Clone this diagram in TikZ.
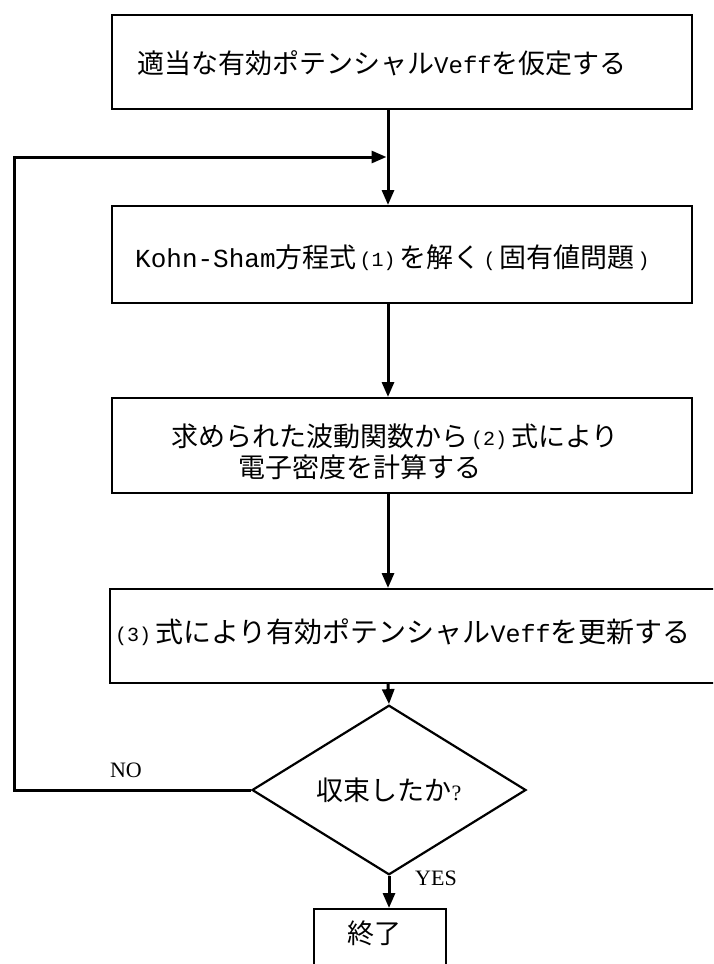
\documentclass[tikz,border=0pt]{standalone}
\usepackage{fontspec}
\setmainfont{Noto Sans CJK JP}
\newfontfamily\monofam{Liberation Mono}
\newfontfamily\seriffam{Liberation Serif}
\usetikzlibrary{arrows.meta,shapes.geometric}
\newcommand{\lmono}[2][24]{{\monofam\fontsize{#1}{#1}\selectfont #2}}
\newcommand{\smallref}[1]{\hspace{3pt}\raisebox{1pt}{\monofam\fontsize{20}{20}\selectfont #1}\hspace{4pt}}
\begin{document}
\begin{tikzpicture}[x=1pt,y=-1pt,
  box/.style={draw,line width=1.8pt,minimum width=580pt,anchor=north west,inner sep=0pt},
  txt/.style={anchor=west,inner sep=0pt,font=\fontsize{27}{32}\selectfont},
  arr/.style={line width=3pt,-{Triangle[length=15pt,width=12pt]}},
  lnk/.style={line width=3pt},
  lab/.style={inner sep=0pt,font=\seriffam\fontsize{22}{26}\selectfont}]
\useasboundingbox (0,0) rectangle (713,964);
\clip (0,0) rectangle (713,964);
\fill[white] (0,0) rectangle (713,964);
% boxes
\node[box,minimum height=94pt] (b1) at (111,14) {};
\node[box,minimum height=97pt] (b2) at (111,205) {};
\node[box,minimum height=95pt] (b3) at (111,397) {};
\node[box,minimum height=94pt,minimum width=660pt] (b4) at (109,588) {};
\node[draw,diamond,line width=2.2pt,minimum width=274pt,minimum height=118pt,inner sep=0pt,
      font=\fontsize{27}{32}\selectfont] (dec) at (389,790) {収束したか{\seriffam\fontsize{22}{22}\selectfont ?}};
\node[box,minimum width=132pt,minimum height=80pt] (fin) at (313,908) {};
\node[inner sep=0pt,font=\fontsize{27}{32}\selectfont] (fint) at (374,933) {終了};
% texts
\node[txt] (t1) at (137,63) {適当な有効ポテンシャル\lmono{Veff}を仮定する};
\node[txt] (t2) at (135,258) {\lmono[26]{Kohn-Sham}方程式\smallref{(1)}を解く\smallref{(}固有値問題\smallref{)}};
\node[txt] (t3a) at (171,437) {求められた波動関数から\smallref{(2)}式により};
\node[txt] (t3b) at (238,467) {電子密度を計算する};
\node[txt,font=\fontsize{28}{32}\selectfont] (t4) at (112,632) {\smallref{(3)}式により有効ポテンシャル\lmono[25]{Veff}を更新する};
% connectors
\coordinate (ax) at (388,0);
\coordinate (merge) at (388,157);
\coordinate (fb) at (14,157);
\draw[lnk] (b1.south -| ax) -- (merge);
\draw[arr] (merge) -- (b2.north -| ax);
\draw[arr,shorten >=1.5pt] (dec.west) -| (fb) -- (merge);
\draw[arr] (b2.south -| ax) -- (b3.north -| ax);
\draw[arr] (b3.south -| ax) -- (b4.north -| ax);
\draw[arr] (b4.south -| ax) -- (dec.north);
\draw[arr] (dec.south) -- (dec.south |- fin.north);
% labels
\node[lab] (no) at (126,770) {NO};
\node[lab] (yes) at (436,878) {YES};
\end{tikzpicture}
\end{document}
